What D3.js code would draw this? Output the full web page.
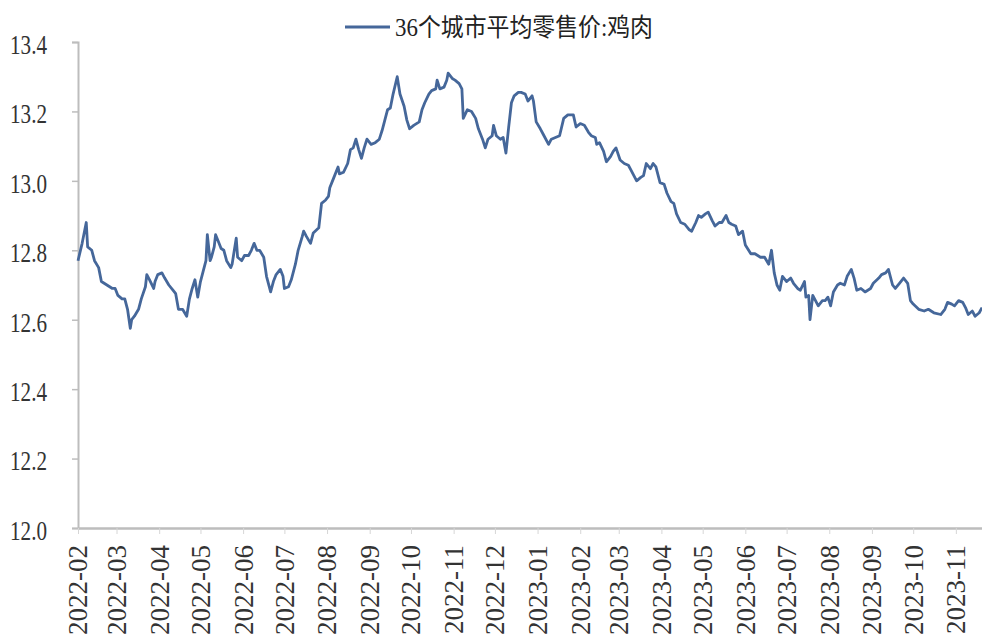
<!DOCTYPE html>
<html>
<head>
<meta charset="utf-8">
<script src="https://cdn.jsdelivr.net/npm/d3@7"></script>
<style>
  body { margin: 0; background: #fff; }
  svg { display: block; }
</style>
</head>
<body>
<div id="chart-area"></div>
<script>
// Data
const seriesName = '36个城市平均零售价:鸡肉'
const dates = [
  '2022-02-01','2022-02-04','2022-02-07','2022-02-08','2022-02-11','2022-02-13','2022-02-16','2022-02-18','2022-02-22','2022-02-26','2022-02-28',
  '2022-03-02','2022-03-05','2022-03-07','2022-03-09','2022-03-11','2022-03-12','2022-03-14','2022-03-17','2022-03-19','2022-03-22','2022-03-23','2022-03-25','2022-03-28','2022-03-29','2022-03-31',
  '2022-04-03','2022-04-05','2022-04-08','2022-04-11','2022-04-13','2022-04-15','2022-04-18','2022-04-21','2022-04-23','2022-04-25','2022-04-27','2022-04-29',
  '2022-05-01','2022-05-03','2022-05-05','2022-05-06','2022-05-08','2022-05-09','2022-05-11','2022-05-12','2022-05-14','2022-05-16','2022-05-18','2022-05-20','2022-05-23','2022-05-24','2022-05-27','2022-05-28','2022-05-31',
  '2022-06-02','2022-06-05','2022-06-07','2022-06-09','2022-06-11','2022-06-13','2022-06-16','2022-06-18','2022-06-21','2022-06-23','2022-06-25','2022-06-28','2022-06-30',
  '2022-07-01','2022-07-04','2022-07-06','2022-07-09','2022-07-11','2022-07-14','2022-07-15','2022-07-17','2022-07-20','2022-07-22','2022-07-26','2022-07-28','2022-07-31',
  '2022-08-02','2022-08-03','2022-08-06','2022-08-09','2022-08-10','2022-08-13','2022-08-16','2022-08-18','2022-08-20','2022-08-22','2022-08-24','2022-08-26','2022-08-28','2022-08-30',
  '2022-09-02','2022-09-05','2022-09-08','2022-09-10','2022-09-12','2022-09-14','2022-09-16','2022-09-18','2022-09-21','2022-09-23','2022-09-26','2022-09-28','2022-09-30',
  '2022-10-03','2022-10-07','2022-10-09','2022-10-11','2022-10-14','2022-10-16','2022-10-19','2022-10-20','2022-10-22','2022-10-25','2022-10-27','2022-10-28','2022-10-31',
  '2022-11-02','2022-11-05','2022-11-07','2022-11-08','2022-11-11','2022-11-14','2022-11-17','2022-11-19','2022-11-22','2022-11-24','2022-11-26','2022-11-29','2022-11-30',
  '2022-12-02','2022-12-05','2022-12-07','2022-12-09','2022-12-11','2022-12-13','2022-12-15','2022-12-18','2022-12-20','2022-12-23','2022-12-25','2022-12-28','2022-12-29','2022-12-31',
  '2023-01-03','2023-01-05','2023-01-09','2023-01-11','2023-01-14','2023-01-17','2023-01-20','2023-01-23','2023-01-27','2023-01-29',
  '2023-02-01','2023-02-04','2023-02-07','2023-02-09','2023-02-12','2023-02-13','2023-02-15','2023-02-18','2023-02-20','2023-02-23','2023-02-25','2023-02-27',
  '2023-03-02','2023-03-05','2023-03-08','2023-03-10','2023-03-14','2023-03-17','2023-03-19','2023-03-21','2023-03-24','2023-03-26','2023-03-28','2023-03-31',
  '2023-04-03','2023-04-05','2023-04-08','2023-04-10','2023-04-12','2023-04-15','2023-04-18','2023-04-21','2023-04-23','2023-04-26','2023-04-28','2023-04-30',
  '2023-05-03','2023-05-05','2023-05-08','2023-05-10','2023-05-13','2023-05-15','2023-05-18','2023-05-20','2023-05-22','2023-05-25','2023-05-27','2023-05-30',
  '2023-06-01','2023-06-05','2023-06-08','2023-06-12','2023-06-15','2023-06-18','2023-06-20','2023-06-22','2023-06-24','2023-06-26','2023-06-28',
  '2023-07-01','2023-07-04','2023-07-06','2023-07-09','2023-07-11','2023-07-14','2023-07-15','2023-07-17','2023-07-18','2023-07-20','2023-07-22','2023-07-24','2023-07-27','2023-07-29','2023-07-31',
  '2023-08-02','2023-08-04','2023-08-07','2023-08-09','2023-08-12','2023-08-14','2023-08-17','2023-08-19','2023-08-21','2023-08-24','2023-08-27','2023-08-31',
  '2023-09-02','2023-09-06','2023-09-08','2023-09-11','2023-09-13','2023-09-16','2023-09-18','2023-09-21','2023-09-24','2023-09-27','2023-09-29',
  '2023-10-01','2023-10-05','2023-10-09','2023-10-12','2023-10-16','2023-10-21','2023-10-24','2023-10-26','2023-10-29','2023-10-31',
  '2023-11-03','2023-11-06','2023-11-08','2023-11-10','2023-11-13','2023-11-15','2023-11-18','2023-11-20'
]
const prices = [
  12.77,12.82,12.88,12.81,12.80,12.77,12.75,12.71,12.70,12.69,12.69,
  12.67,12.66,12.66,12.63,12.575,12.60,12.61,12.63,12.66,12.695,12.73,12.715,12.69,12.71,12.73,
  12.735,12.72,12.70,12.685,12.675,12.63,12.63,12.61,12.66,12.69,12.715,12.665,
  12.71,12.74,12.77,12.845,12.77,12.78,12.81,12.845,12.825,12.805,12.80,12.77,12.75,12.76,12.835,12.78,12.77,
  12.785,12.785,12.80,12.82,12.80,12.80,12.78,12.725,12.68,12.71,12.73,12.745,12.725,
  12.69,12.695,12.715,12.76,12.80,12.84,12.855,12.84,12.82,12.85,12.865,12.935,12.945,
  12.955,12.98,13.01,13.04,13.02,13.025,13.05,13.09,13.095,13.12,13.09,13.065,13.095,13.12,
  13.105,13.11,13.12,13.145,13.175,13.205,13.21,13.25,13.30,13.25,13.215,13.175,13.15,
  13.16,13.17,13.205,13.225,13.25,13.26,13.265,13.29,13.265,13.27,13.29,13.31,13.295,
  13.29,13.28,13.265,13.18,13.205,13.20,13.18,13.15,13.12,13.095,13.12,13.13,13.16,
  13.13,13.12,13.125,13.08,13.155,13.225,13.245,13.255,13.255,13.25,13.23,13.245,13.23,13.17,
  13.15,13.135,13.105,13.12,13.125,13.13,13.18,13.19,13.19,13.155,
  13.165,13.16,13.14,13.13,13.125,13.105,13.11,13.085,13.055,13.07,13.085,13.095,
  13.06,13.05,13.045,13.03,13.00,13.01,13.015,13.05,13.035,13.05,13.04,12.995,
  12.99,12.965,12.94,12.935,12.905,12.88,12.875,12.86,12.855,12.88,12.90,12.895,
  12.905,12.91,12.885,12.87,12.88,12.88,12.90,12.88,12.875,12.87,12.845,12.855,
  12.815,12.79,12.79,12.78,12.78,12.76,12.80,12.735,12.70,12.685,12.725,
  12.71,12.72,12.705,12.69,12.685,12.71,12.665,12.67,12.60,12.67,12.655,12.64,12.655,12.655,12.665,
  12.64,12.68,12.70,12.705,12.70,12.725,12.745,12.72,12.685,12.69,12.68,12.69,
  12.705,12.72,12.73,12.735,12.745,12.70,12.69,12.705,12.72,12.705,12.655,
  12.645,12.63,12.625,12.63,12.62,12.615,12.63,12.65,12.645,12.64,
  12.655,12.65,12.635,12.615,12.625,12.61,12.62,12.635
]
const yTicks = [12.0, 12.2, 12.4, 12.6, 12.8, 13.0, 13.2, 13.4]
const xStart = '2022-02-01'
const xEnd = '2023-11-20'

// Sizing
const W = 982
const H = 637
const MARGIN = { LEFT: 78, RIGHT: 0, TOP: 42, BOTTOM: 109 }

const parse = d3.timeParse('%Y-%m-%d')
const data = dates.map((d, i) => ({ date: parse(d), value: prices[i] }))

const svg = d3.select('#chart-area').append('svg')
  .attr('width', W)
  .attr('height', H)

const x = d3.scaleTime()
  .domain([parse(xStart), parse(xEnd)])
  .range([MARGIN.LEFT, W - MARGIN.RIGHT])

const y = d3.scaleLinear()
  .domain([12.0, 13.4])
  .range([H - MARGIN.BOTTOM, MARGIN.TOP])

const serif = '"Liberation Serif", "Times New Roman", "Noto Sans CJK SC", serif'
const axisColor = '#bdbdbd'
const lineColor = '#45679a'

// y axis
const yAxis = svg.append('g')
  .attr('transform', `translate(${MARGIN.LEFT}, 0)`)
  .call(d3.axisLeft(y).tickValues(yTicks).tickFormat(d3.format('.1f')).tickSize(6).tickPadding(25))
yAxis.select('.domain').attr('stroke', axisColor).attr('stroke-width', 2)
yAxis.selectAll('.tick line').attr('stroke', axisColor).attr('stroke-width', 1.5)
yAxis.selectAll('.tick text')
  .attr('font-family', serif)
  .attr('font-size', '27px')
  .attr('fill', '#333')
  .attr('dy', '0.42em')
  .attr('textLength', 37)
  .attr('lengthAdjust', 'spacingAndGlyphs')

// x axis
const months = d3.timeMonth.range(parse(xStart), d3.timeDay.offset(parse(xEnd), 1))
const xAxis = svg.append('g')
  .attr('transform', `translate(0, ${H - MARGIN.BOTTOM})`)
  .call(d3.axisBottom(x).tickValues(months).tickFormat(d3.timeFormat('%Y-%m')).tickSize(6).tickSizeOuter(0))
xAxis.select('.domain').attr('stroke', axisColor).attr('stroke-width', 2.5)
xAxis.selectAll('.tick line').attr('stroke', '#d6d6d6').attr('stroke-width', 1)
xAxis.selectAll('.tick text')
  .attr('font-family', serif)
  .attr('font-size', '27px')
  .attr('fill', '#333')
  .attr('transform', 'rotate(-90)')
  .attr('text-anchor', 'end')
  .attr('x', -17)
  .attr('y', 0)
  .attr('dy', '0.33em')

// line
const line = d3.line()
  .x(d => x(d.date))
  .y(d => y(d.value))

svg.append('path')
  .datum(data)
  .attr('fill', 'none')
  .attr('stroke', lineColor)
  .attr('stroke-width', 2.8)
  .attr('stroke-linejoin', 'round')
  .attr('d', line)

// legend
const legend = svg.append('g')
legend.append('line')
  .attr('x1', 345).attr('x2', 390)
  .attr('y1', 27).attr('y2', 27)
  .attr('stroke', lineColor)
  .attr('stroke-width', 3)
legend.append('text')
  .attr('x', 395)
  .attr('y', 36)
  .attr('font-family', serif)
  .attr('font-size', '25px')
  .attr('fill', '#222')
  .attr('textLength', 258)
  .attr('lengthAdjust', 'spacingAndGlyphs')
  .text(seriesName)
</script>
</body>
</html>
